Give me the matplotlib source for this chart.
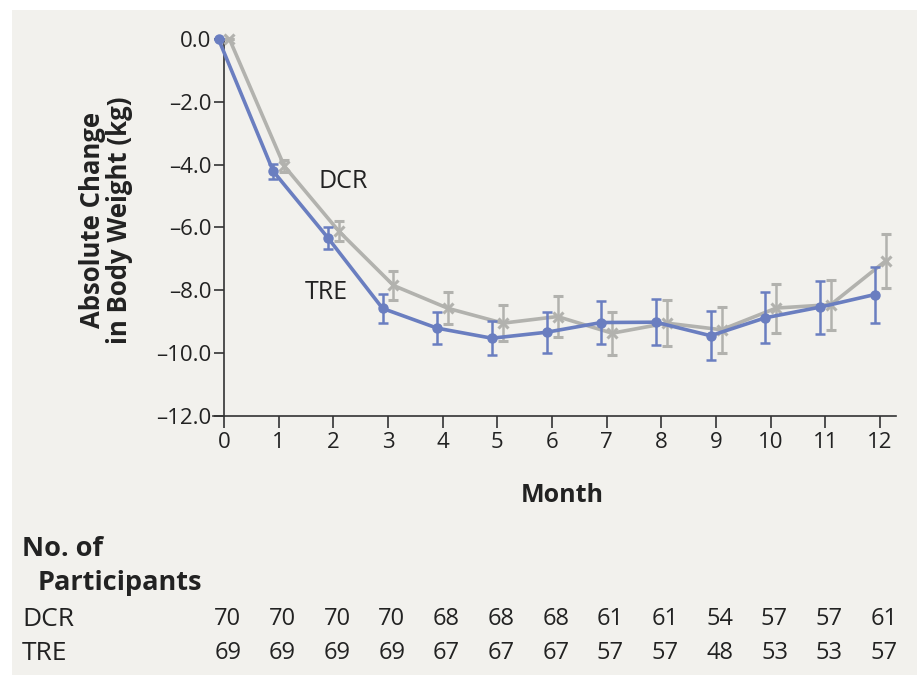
import matplotlib
matplotlib.use("Agg")
import matplotlib.pyplot as plt
import matplotlib.transforms as mtransforms
from matplotlib.patches import Rectangle

plt.rcParams['font.family'] = ['Open Sans', 'DejaVu Sans']

months = list(range(13))
tre_mean = [0.0, -4.21, -6.33, -8.58, -9.21, -9.53, -9.34, -9.03, -9.02, -9.45, -8.88, -8.54, -8.14]
tre_err = [0.0, 0.24, 0.35, 0.46, 0.52, 0.54, 0.65, 0.70, 0.74, 0.79, 0.81, 0.84, 0.89]
dcr_mean = [0.0, -4.04, -6.12, -7.85, -8.58, -9.05, -8.84, -9.37, -9.05, -9.26, -8.57, -8.46, -7.07]
dcr_err = [0.0, 0.20, 0.32, 0.45, 0.51, 0.58, 0.64, 0.68, 0.73, 0.74, 0.78, 0.80, 0.86]
dcr_n = [70, 70, 70, 70, 68, 68, 68, 61, 61, 54, 57, 57, 61]
tre_n = [69, 69, 69, 69, 67, 67, 67, 57, 57, 48, 53, 53, 57]
yticks = [0, -2, -4, -6, -8, -10, -12]
ytick_labels = ["0.0", "\u20132.0", "\u20134.0", "\u20136.0", "\u20138.0", "\u201310.0", "\u201312.0"]

BG = "#f2f1ed"
BLUE = "#6a7ec0"
GRAY = "#b2b2ae"
DARK = "#222222"

fig = plt.figure(figsize=(9.17, 6.75), dpi=100, facecolor="white")
fig.patches.append(Rectangle((12 / 917, 0), 1, 1 - 10 / 675, transform=fig.transFigure,
                             facecolor=BG, edgecolor="none", zorder=-10))

ax = fig.add_axes([0.2264, 0.3841, 0.7512, 0.5719])
ax.set_facecolor("none")

off = 0.1
xt = [m - off for m in months]
xd = [m + off for m in months]

ax.errorbar(xd, dcr_mean, yerr=dcr_err, color=GRAY, lw=2.6, marker='x', ms=7, mew=2.2,
            elinewidth=1.8, capsize=3.5, capthick=1.8, zorder=3)
ax.errorbar(xt, tre_mean, yerr=tre_err, color=BLUE, lw=2.6, marker='o', ms=6.5,
            elinewidth=1.8, capsize=3.5, capthick=1.8, zorder=4)

ax.text(2.18, -4.53, "DCR", fontsize=18, color=DARK, ha='center', va='center')
ax.text(1.88, -8.07, "TRE", fontsize=18, color=DARK, ha='center', va='center')

ax.set_xlim(-0.3, 12.3)
ax.set_ylim(-12.0, 0.3)
for s in ['top', 'right']:
    ax.spines[s].set_visible(False)
ax.spines['left'].set_position(('data', 0))
ax.spines['left'].set_bounds(-12, 0)
ax.spines['bottom'].set_bounds(-0.2, 12.3)
for s in ['left', 'bottom']:
    ax.spines[s].set_color("#333333")
    ax.spines[s].set_linewidth(1.2)

ax.set_xticks(months)
ax.set_xticklabels([str(m) for m in months])
ax.set_yticks(yticks)
ax.set_yticklabels(ytick_labels)
ax.tick_params(axis='x', length=8.5, width=1.2, color="#333333", labelsize=16,
               labelcolor=DARK, pad=3)
ax.tick_params(axis='y', length=7, width=1.2, color="#333333", labelsize=16,
               labelcolor=DARK, pad=2)

fig.text(562 / 917, 1 - 496 / 675, "Month", fontsize=18, fontweight='bold', color=DARK,
         ha='center', va='center')
fig.text(106 / 917, 1 - 220 / 675, "Absolute Change\nin Body Weight (kg)", fontsize=18.5,
         fontweight='bold', color=DARK, ha='center', va='center', rotation=90,
         linespacing=1.0)

fig.text(22 / 917, 1 - 549 / 675, "No. of", fontsize=19.5, fontweight='bold', color=DARK,
         ha='left', va='center')
fig.text(38 / 917, 1 - 583 / 675, "Participants", fontsize=19.5, fontweight='bold', color=DARK,
         ha='left', va='center')

trans = mtransforms.blended_transform_factory(ax.transData, fig.transFigure)
fig.text(22 / 917, 1 - 619 / 675, "DCR", fontsize=19, color=DARK, ha='left', va='center')
fig.text(22 / 917, 1 - 653 / 675, "TRE", fontsize=19, color=DARK, ha='left', va='center')
for m, a, b in zip(months, dcr_n, tre_n):
    fig.text(m + 0.07, 1 - 619 / 675, str(a), fontsize=17, color=DARK, ha='center',
             va='center', transform=trans)
    fig.text(m + 0.07, 1 - 653 / 675, str(b), fontsize=17, color=DARK, ha='center',
             va='center', transform=trans)

fig.savefig("out.png", dpi=100, facecolor=fig.get_facecolor())
